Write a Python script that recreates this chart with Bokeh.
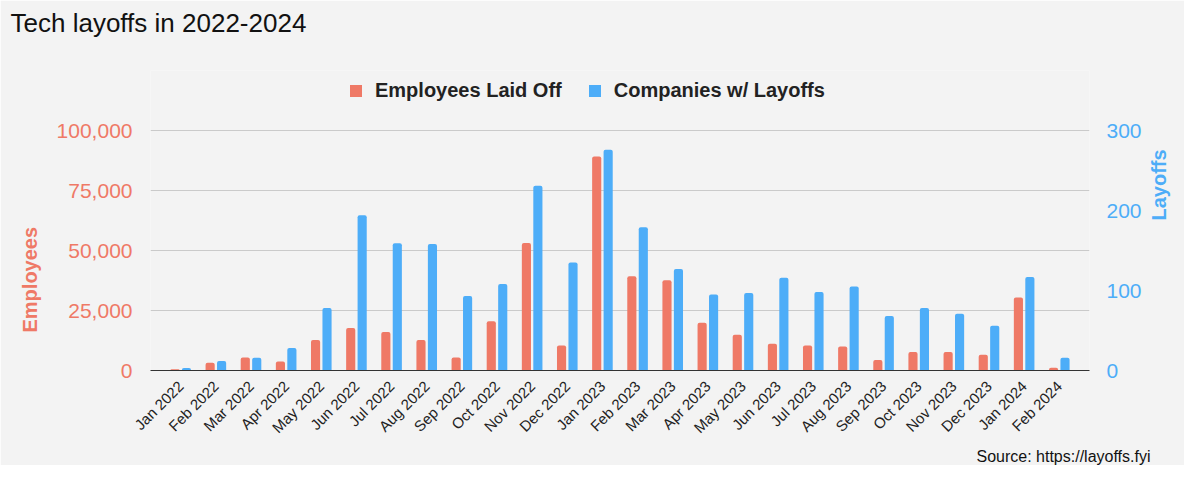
from math import pi
from bokeh.plotting import figure
from bokeh.models import (FactorRange, Range1d, LinearAxis, FixedTicker, NumeralTickFormatter,
                          Legend, LegendItem, Title, ColumnDataSource)
from bokeh.transform import dodge
from bokeh.embed import file_html
from bokeh.resources import INLINE

months = ["Jan 2022", "Feb 2022", "Mar 2022", "Apr 2022", "May 2022", "Jun 2022",
          "Jul 2022", "Aug 2022", "Sep 2022", "Oct 2022", "Nov 2022", "Dec 2022",
          "Jan 2023", "Feb 2023", "Mar 2023", "Apr 2023", "May 2023", "Jun 2023",
          "Jul 2023", "Aug 2023", "Sep 2023", "Oct 2023", "Nov 2023", "Dec 2023",
          "Jan 2024", "Feb 2024"]
employees = [510, 3200, 5400, 3700, 12700, 17700, 16000, 12700, 5400, 20500, 53100, 10400,
             89200, 39300, 37600, 19900, 14900, 11100, 10400, 10000, 4400, 7700, 7700, 6600,
             30400, 1100]
companies = [3, 12, 16, 28, 78, 194, 159, 158, 93, 108, 231, 135,
             276, 179, 127, 95, 97, 116, 98, 105, 68, 78, 71, 56,
             117, 16]
left_ticks = [0, 25000, 50000, 75000, 100000]
right_ticks = [0, 100, 200, 300]

RED = "#ef7966"
BLUE = "#4dadf8"
BG = "#f3f3f3"
FONT = "Liberation Sans"

src = ColumnDataSource(dict(month=months, employees=employees, companies=companies))

W, H = 1184, 465
TOP = 70          # frame top (px); gridline 100,000 sits at y=130
BOT = 370         # frame bottom (px)
span = (BOT - TOP) / (BOT - 130)

p = figure(x_range=FactorRange(*months, range_padding=0.36, range_padding_units="absolute"),
           y_range=Range1d(0, left_ticks[-1] * span), width=W, height=H,
           output_backend="svg", toolbar_location=None,
           min_border_left=150, min_border_right=W - 1089, min_border_top=TOP,
           min_border_bottom=H - BOT)
p.background_fill_color = BG
p.border_fill_color = BG
p.outline_line_color = None
p.extra_y_ranges = {"layoffs": Range1d(0, right_ticks[-1] * span)}

r1 = p.vbar(x=dodge("month", -0.163, range=p.x_range), top="employees", width=0.26,
            source=src, fill_color=RED, line_color=None, border_radius=(2, 2, 0, 0))
r2 = p.vbar(x=dodge("month", 0.163, range=p.x_range), top="companies", width=0.26,
            source=src, fill_color=BLUE, line_color=None, y_range_name="layoffs",
            border_radius=(2, 2, 0, 0))

# title (an empty second line lifts it toward the top edge)
p.title.text = "Tech layoffs in 2022-2024\n"
p.title.align = "left"
p.title.offset = -140
p.title.text_font = FONT
p.title.text_font_size = "26px"
p.title.text_font_style = "normal"
p.title.text_color = "#111111"
p.title.standoff = 6

# axes
p.xgrid.visible = False
p.ygrid.ticker = FixedTicker(ticks=left_ticks)
p.ygrid.grid_line_color = "#cacaca"
p.ygrid.grid_line_width = 1

xa = p.xaxis[0]
xa.major_label_orientation = pi / 4
xa.major_tick_line_color = None
xa.axis_line_color = "#333333"
xa.major_label_text_font = FONT
xa.major_label_text_font_size = "15px"
xa.major_label_text_color = "#222222"
xa.major_label_standoff = 7

ya = p.yaxis[0]
ya.ticker = FixedTicker(ticks=left_ticks)
ya.formatter = NumeralTickFormatter(format="0,0")
ya.axis_line_color = None
ya.major_tick_line_color = None
ya.minor_tick_line_color = None
ya.major_label_text_font = FONT
ya.major_label_text_font_size = "21px"
ya.major_label_text_color = RED
ya.major_label_standoff = 12

ra = LinearAxis(y_range_name="layoffs", ticker=FixedTicker(ticks=right_ticks))
ra.axis_line_color = None
ra.major_tick_line_color = None
ra.minor_tick_line_color = None
ra.major_label_text_font = FONT
ra.major_label_text_font_size = "21px"
ra.major_label_text_color = BLUE
ra.major_label_standoff = 11
ra.axis_label = "Layoffs"
ra.axis_label_text_font = FONT
ra.axis_label_text_font_size = "20px"
ra.axis_label_text_font_style = "bold"
ra.axis_label_text_color = BLUE
ra.axis_label_standoff = 14
if "axis_label_orientation" in ra.properties():
    ra.axis_label_orientation = pi / 2
p.add_layout(ra, "right")

p.add_layout(Title(text="Employees", align="left", offset=38, text_font=FONT,
                   text_font_size="20px", text_font_style="bold", text_color=RED,
                   standoff=26), "left")

legend = Legend(items=[LegendItem(label="Employees Laid Off", renderers=[r1]),
                       LegendItem(label="Companies w/ Layoffs", renderers=[r2])],
                orientation="horizontal", location=(198, 268),
                background_fill_alpha=0, border_line_alpha=0,
                label_text_font=FONT, label_text_font_size="20px",
                label_text_font_style="bold", label_text_color="#222222",
                glyph_width=15, glyph_height=15, label_standoff=12, spacing=25,
                padding=0, margin=0)
p.add_layout(legend)

p.add_layout(Title(text="Source: https://layoffs.fyi", align="right", offset=-61,
                   text_font=FONT, text_font_size="16px", text_font_style="normal",
                   text_color="#111111", standoff=0), "below")

open("out.html", "w").write(file_html(p, INLINE))
